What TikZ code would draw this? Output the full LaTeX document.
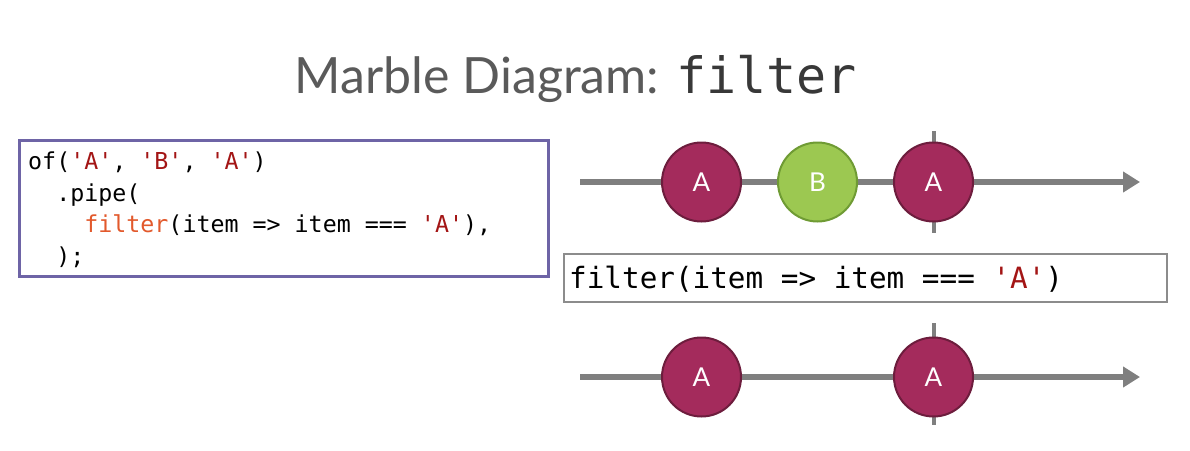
\documentclass[tikz,border=0pt]{standalone}
\usepackage{fontspec}
\setmainfont{Lato}
\newfontfamily\codefont{DejaVu Sans Mono}
\usetikzlibrary{arrows.meta}

\definecolor{strred}{HTML}{A31515}
\definecolor{fnorange}{HTML}{E2592C}
\definecolor{codeframe}{HTML}{6E64A6}
\definecolor{axisgray}{HTML}{7F7F7F}
\definecolor{titlegray}{HTML}{5A5A5A}
\definecolor{marbleA}{HTML}{A42B5C}
\definecolor{marbleAedge}{HTML}{6D1D3D}
\definecolor{marbleB}{HTML}{9CC851}
\definecolor{marbleBedge}{HTML}{6F9B34}

\newcommand{\str}[1]{\textcolor{strred}{#1}}

\begin{document}
\begin{tikzpicture}[x=1pt,y=-1pt,
  timeline/.style={draw=axisgray,line width=6pt,-{Triangle[length=17pt,width=20pt]}},
  tick/.style={draw=axisgray,line width=4pt},
  marble/.style={circle,minimum size=79pt,inner sep=0pt,line width=2pt,text=white,font=\fontsize{26}{26}\selectfont},
  red marble/.style={marble,fill=marbleA,draw=marbleAedge},
  green marble/.style={marble,fill=marbleB,draw=marbleBedge},
  code line/.style={anchor=base west,inner sep=0pt,font=\codefont\fontsize{23.3}{23.3}\selectfont}]
  \useasboundingbox (0,0) rectangle (1190,450);

  % title
  \node[anchor=base,inner sep=0pt,text=titlegray,font=\fontsize{50}{50}\selectfont] (title) at (576,93)
    {Marble Diagram: {\codefont\color{black!78}filter}};

  % source code
  \node[draw=codeframe,line width=2.5pt,minimum width=529pt,minimum height=136pt,anchor=north west] (codebox) at (18,139) {};
  \node[code line] (code1) at (28,169.5) {of(\str{'A'}, \str{'B'}, \str{'A'})};
  \node[code line] (code2) at (28,201) {\phantom{xx}.pipe(};
  \node[code line] (code3) at (28,232.5) {\phantom{xxxx}\textcolor{fnorange}{filter}(item => item === \str{'A'}),};
  \node[code line] (code4) at (28,264) {\phantom{xx});};

  % input stream
  \coordinate (in start) at (580,182);
  \coordinate (in end) at (1140,182);
  \coordinate (in tick top) at (933.5,131);
  \coordinate (in tick bot) at (933.5,233);
  \draw[timeline] (in start) -- (in end);
  \draw[tick] (in tick top) -- (in tick bot);
  \node[red marble] (in1) at (701.5,182) {A};
  \node[green marble] (in2) at (817.5,182) {B};
  \node[red marble] (in3) at (933.5,182) {A};

  % operator
  \node[draw=axisgray!90,line width=1.5pt,minimum width=603pt,minimum height=48pt,anchor=north west] (opbox) at (563,253) {};
  \node[anchor=base west,inner sep=0pt,font=\codefont\fontsize{29.3}{29.3}\selectfont] (optext) at (569,288)
    {filter(item => item === \str{'A'})};

  % output stream
  \coordinate (out start) at (580,377);
  \coordinate (out end) at (1140,377);
  \coordinate (out tick top) at (933.5,323);
  \coordinate (out tick bot) at (933.5,425);
  \draw[timeline] (out start) -- (out end);
  \draw[tick] (out tick top) -- (out tick bot);
  \node[red marble] (out1) at (701.5,377) {A};
  \node[red marble] (out2) at (933.5,377) {A};
\end{tikzpicture}
\end{document}
